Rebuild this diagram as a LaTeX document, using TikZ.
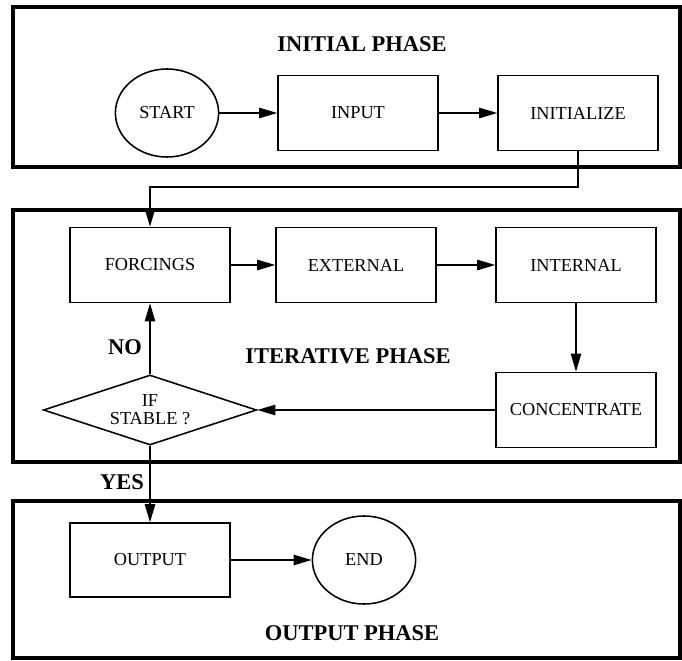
\documentclass[tikz,border=0pt]{standalone}
\usepackage{fontspec}
\setmainfont{Liberation Serif}
\usetikzlibrary{arrows.meta,shapes.geometric}

\begin{document}
\begin{tikzpicture}[x=0.025cm,y=-0.025cm,
		phase/.style={line width=3pt},
		stepbox/.style={draw,line width=1.1pt,minimum width=4cm,minimum height=1.88cm,inner sep=0pt,font=\fontsize{13}{15}\selectfont},
		term/.style={draw,ellipse,line width=1.1pt,minimum width=2.58cm,minimum height=2.2cm,inner sep=0pt,font=\fontsize{13}{15}\selectfont},
		test/.style={draw,diamond,aspect=3,line width=1.1pt,minimum width=5.33cm,minimum height=1.75cm,inner sep=0pt,align=center,font=\fontsize{13}{13}\selectfont},
		title/.style={font=\fontsize{16}{19}\selectfont\bfseries},
		flow/.style={line width=0.9pt,-{Triangle[length=4.5mm,width=2.6mm]}}]
			\useasboundingbox (0,0) rectangle (682,661);
			
			\draw[phase] (13,7) rectangle (680,167);
			\draw[phase] (13,210) rectangle (680,462);
			\draw[phase] (13,501) rectangle (680,658);
			
			\node[title] (tinit) at (362,44) {INITIAL PHASE};
			\node[title] (titer) at (348,356) {ITERATIVE PHASE};
			\node[title] (tout) at (352,633) {OUTPUT PHASE};
			
			\node[term] (start) at (167,113) {START};
			\node[stepbox] (input) at (358,113) {INPUT};
			\node[stepbox] (init) at (578,113) {INITIALIZE};
			
			\node[stepbox] (forc) at (150,265) {FORCINGS};
			\node[stepbox] (ext) at (356,265) {EXTERNAL};
			\node[stepbox] (int) at (576,265) {INTERNAL};
			\node[stepbox] (conc) at (576,410) {CONCENTRATE};
			\node[test] (stable) at (150,410) {IF\\STABLE ?};
			
			\node[stepbox,minimum height=1.85cm] (output) at (150,560) {OUTPUT};
			\node[term] (end) at (364,560) {END};
			
			\coordinate (bend) at (150,187);
			
			\draw[flow] (start) -- (input);
			\draw[flow] (input) -- (init);
			\draw[flow] (init.south) |- (bend) -- (forc.north);
			\draw[flow] (forc) -- (ext);
			\draw[flow] (ext) -- (int);
			\draw[flow] (int) -- (conc);
			\draw[flow] (conc.west) -- (stable.east);
			\draw[flow] (stable.north) -- (forc.south);
			\draw[flow] (stable.south) -- (output.north);
			\draw[flow] (output) -- (end);
			
			\node[title] (no) at (125,347) {NO};
			\node[title] (yes) at (122,482) {YES};
		\end{tikzpicture}
\end{document}
